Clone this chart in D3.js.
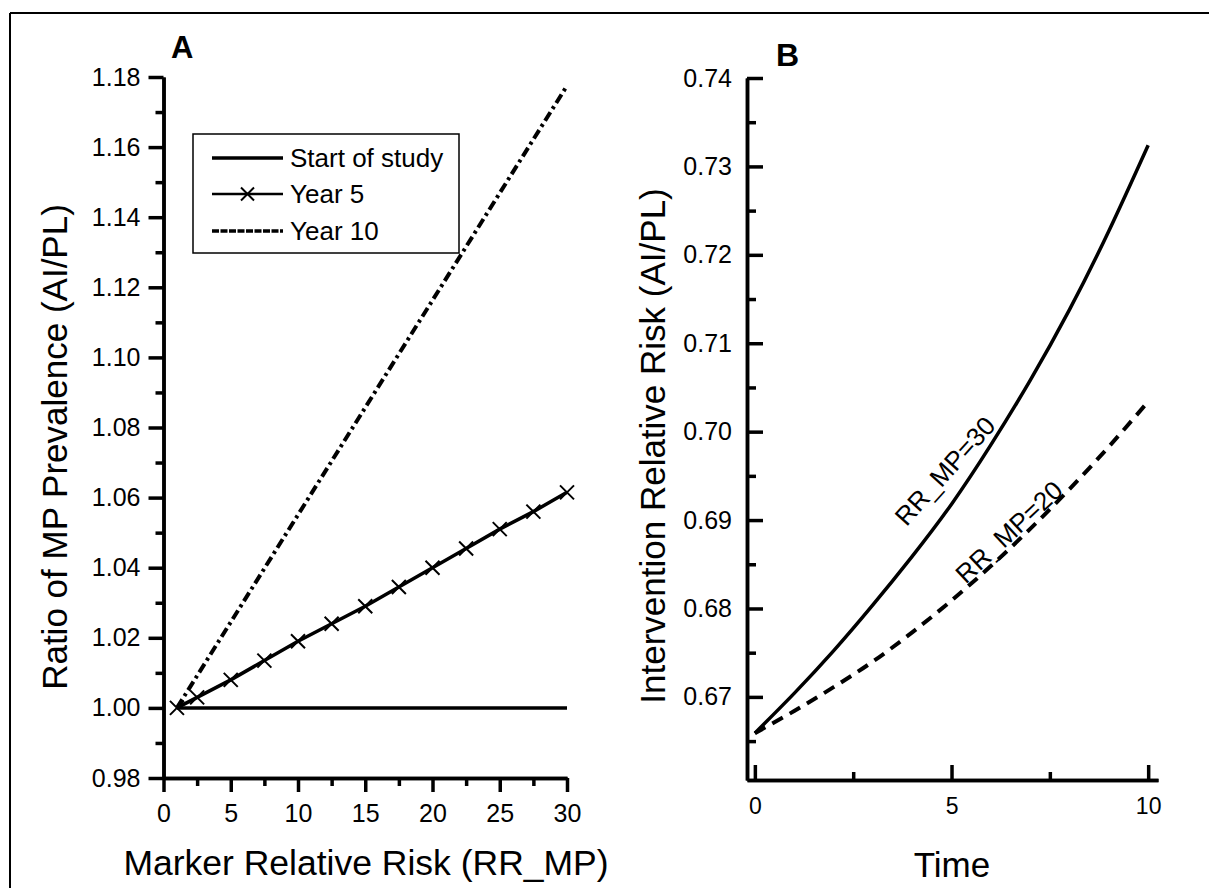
<!DOCTYPE html>
<html>
<head>
<meta charset="utf-8">
<script src="https://cdn.jsdelivr.net/npm/d3@7"></script>
<style>
body { margin: 0; background: #fff; }
svg { font-family: Arial, "Liberation Sans", Helvetica, sans-serif; }
.axis path, .axis line { stroke: #000; stroke-width: 3.5; }
.axis text { font-size: 25px; fill: #000; }
</style>
</head>
<body>
<div id="chart"></div>
<script>
// panel A: ratio of MP prevalence vs marker relative risk
const rrStart = [1, 30]
const startVals = [1.000, 1.000]
const rrYear5 = [1, 2.5, 5, 7.5, 10, 12.5, 15, 17.5, 20, 22.5, 25, 27.5, 30]
const year5Vals = [1.000, 1.003, 1.008, 1.0135, 1.019, 1.024, 1.029, 1.0345, 1.040, 1.0455, 1.051, 1.056, 1.0615]
const rrYear10 = [1, 30]
const year10Vals = [1.000, 1.1775]
const legendNames = ['Start of study', 'Year 5', 'Year 10']
const aMajorY = [0.98, 1.00, 1.02, 1.04, 1.06, 1.08, 1.10, 1.12, 1.14, 1.16, 1.18]
const aMinorY = [0.99, 1.01, 1.03, 1.05, 1.07, 1.09, 1.11, 1.13, 1.15, 1.17]
const aMajorX = [0, 5, 10, 15, 20, 25, 30]
const aMinorX = [2.5, 7.5, 12.5, 17.5, 22.5, 27.5]

// panel B: intervention relative risk over time
const time = [0, 1, 2, 3, 4, 5, 6, 7, 8, 9, 10]
const rr30 = [0.6659, 0.6704, 0.6752, 0.6804, 0.6859, 0.6918, 0.6985, 0.7058, 0.7138, 0.7227, 0.7324]
const rr20 = [0.6659, 0.6684, 0.6711, 0.6740, 0.6773, 0.6809, 0.6848, 0.6890, 0.6935, 0.6983, 0.7034]
const bMajorY = [0.67, 0.68, 0.69, 0.70, 0.71, 0.72, 0.73, 0.74]
const bMinorY = [0.665, 0.675, 0.685, 0.695, 0.705, 0.715, 0.725, 0.735]
const bMajorX = [0, 5, 10]
const bMinorX = [2.5, 7.5]

const width = 1209, height = 888

const svg = d3.select('#chart').append('svg')
.attr('width', width)
.attr('height', height)

// frame (top + left edges only visible)
svg.append('line').attr('x1', 10).attr('x2', width).attr('y1', 13).attr('y2', 13)
.attr('stroke', '#000').attr('stroke-width', 2)
svg.append('line').attr('x1', 10).attr('x2', 10).attr('y1', 13).attr('y2', height)
.attr('stroke', '#000').attr('stroke-width', 2)

// ---------- panel A ----------
const xA = d3.scaleLinear().domain([0, 30]).range([163.5, 567])
const yA = d3.scaleLinear().domain([0.98, 1.18]).range([778, 77])

svg.append('g').attr('class', 'axis')
.attr('transform', 'translate(163.5,0)')
.call(d3.axisLeft(yA).tickValues(aMinorY).tickSize(8).tickSizeOuter(0).tickFormat(''))
svg.append('g').attr('class', 'axis')
.attr('transform', 'translate(163.5,0)')
.call(d3.axisLeft(yA).tickValues(aMajorY).tickSize(15).tickSizeOuter(0).tickPadding(8).tickFormat(d3.format('.2f')))

svg.append('g').attr('class', 'axis')
.attr('transform', 'translate(0,778)')
.call(d3.axisBottom(xA).tickValues(aMinorX).tickSize(8).tickSizeOuter(0).tickFormat(''))
svg.append('g').attr('class', 'axis')
.attr('transform', 'translate(0,778)')
.call(d3.axisBottom(xA).tickValues(aMajorX).tickSize(14).tickSizeOuter(0).tickPadding(12))

const lineA = d3.line().x(d => xA(d[0])).y(d => yA(d[1]))

svg.append('path')
.attr('d', lineA(d3.zip(rrStart, startVals)))
.attr('fill', 'none').attr('stroke', '#000').attr('stroke-width', 3.5)

svg.append('path')
.attr('d', lineA(d3.zip(rrYear10, year10Vals)))
.attr('fill', 'none').attr('stroke', '#000').attr('stroke-width', 4)
.attr('stroke-dasharray', '10,4,3,4')

svg.append('path')
.attr('d', lineA(d3.zip(rrYear5, year5Vals)))
.attr('fill', 'none').attr('stroke', '#000').attr('stroke-width', 3.5)

const cross = s => `M${-s},${-s}L${s},${s}M${-s},${s}L${s},${-s}`

svg.append('g')
.selectAll('path')
.data(d3.zip(rrYear5, year5Vals))
.enter()
.append('path')
.attr('transform', d => `translate(${xA(d[0])},${yA(d[1])})`)
.attr('d', cross(7))
.attr('stroke', '#000').attr('stroke-width', 2).attr('fill', 'none')

// legend
const leg = svg.append('g')
leg.append('rect')
.attr('x', 193).attr('y', 134).attr('width', 266).attr('height', 119)
.attr('fill', '#fff').attr('stroke', '#000').attr('stroke-width', 1.5)

const legRows = [158, 194, 231]
leg.selectAll('text')
.data(legendNames)
.enter()
.append('text')
.attr('x', 290)
.attr('y', (d, i) => legRows[i] + 9)
.attr('font-size', 26)
.text(d => d)

leg.append('line').attr('x1', 212).attr('x2', 283).attr('y1', legRows[0]).attr('y2', legRows[0])
.attr('stroke', '#000').attr('stroke-width', 3.5)
leg.append('line').attr('x1', 212).attr('x2', 283).attr('y1', legRows[1]).attr('y2', legRows[1])
.attr('stroke', '#000').attr('stroke-width', 2.5)
leg.append('path').attr('transform', `translate(247.5,${legRows[1]})`).attr('d', cross(6.5))
.attr('stroke', '#000').attr('stroke-width', 2)
leg.append('line').attr('x1', 212).attr('x2', 283).attr('y1', legRows[2]).attr('y2', legRows[2])
.attr('stroke', '#000').attr('stroke-width', 3.5).attr('stroke-dasharray', '7,1.5')

// titles
svg.append('text').attr('x', 171).attr('y', 58).attr('font-size', 31).attr('font-weight', 'bold').text('A')
svg.append('text').attr('x', 776).attr('y', 66).attr('font-size', 32).attr('font-weight', 'bold').text('B')

svg.append('text')
.attr('transform', 'translate(67,447) rotate(-90)')
.attr('text-anchor', 'middle').attr('font-size', 35)
.text('Ratio of MP Prevalence (AI/PL)')

svg.append('text')
.attr('x', 366).attr('y', 875)
.attr('text-anchor', 'middle').attr('font-size', 35.5)
.text('Marker Relative Risk (RR_MP)')

// ---------- panel B ----------
const xB = d3.scaleLinear().domain([-0.2, 10.25]).range([747, 1158])
const yB = d3.scaleLinear().domain([0.6606, 0.74]).range([780, 78])

svg.append('g').attr('class', 'axis')
.attr('transform', 'translate(747,0)')
.call(d3.axisLeft(yB).tickValues(bMinorY).tickSize(-9).tickSizeOuter(0).tickFormat(''))
svg.append('g').attr('class', 'axis')
.attr('transform', 'translate(747,0)')
.call(d3.axisLeft(yB).tickValues(bMajorY).tickSize(-16).tickSizeOuter(0).tickPadding(15).tickFormat(d3.format('.2f')))

svg.append('g').attr('class', 'axis')
.attr('transform', 'translate(0,780)')
.call(d3.axisBottom(xB).tickValues(bMinorX).tickSize(-8).tickSizeOuter(0).tickFormat(''))
svg.append('g').attr('class', 'axis b-x')
.attr('transform', 'translate(0,780)')
.call(d3.axisBottom(xB).tickValues(bMajorX).tickSize(-15).tickSizeOuter(0).tickPadding(18))
svg.selectAll('.b-x text').style('font-size', '23px')

const lineB = d3.line().curve(d3.curveNatural).x(d => xB(d[0])).y(d => yB(d[1]))

svg.append('path')
.attr('d', lineB(d3.zip(time, rr30)))
.attr('fill', 'none').attr('stroke', '#000').attr('stroke-width', 3.5)

svg.append('path')
.attr('d', lineB(d3.zip(time, rr20)))
.attr('fill', 'none').attr('stroke', '#000').attr('stroke-width', 4)
.attr('stroke-dasharray', '12,8')

svg.append('text')
.attr('transform', 'translate(945,471) rotate(-48)')
.attr('text-anchor', 'middle').attr('dominant-baseline', 'central').attr('font-size', 26)
.text('RR_MP=30')

svg.append('text')
.attr('transform', 'translate(1009,532) rotate(-43)')
.attr('text-anchor', 'middle').attr('dominant-baseline', 'central').attr('font-size', 26)
.text('RR_MP=20')

svg.append('text')
.attr('transform', 'translate(665,446) rotate(-90)')
.attr('text-anchor', 'middle').attr('font-size', 35)
.text('Intervention Relative Risk (AI/PL)')

svg.append('text')
.attr('x', 952).attr('y', 877)
.attr('text-anchor', 'middle').attr('font-size', 35)
.text('Time')
</script>
</body>
</html>
